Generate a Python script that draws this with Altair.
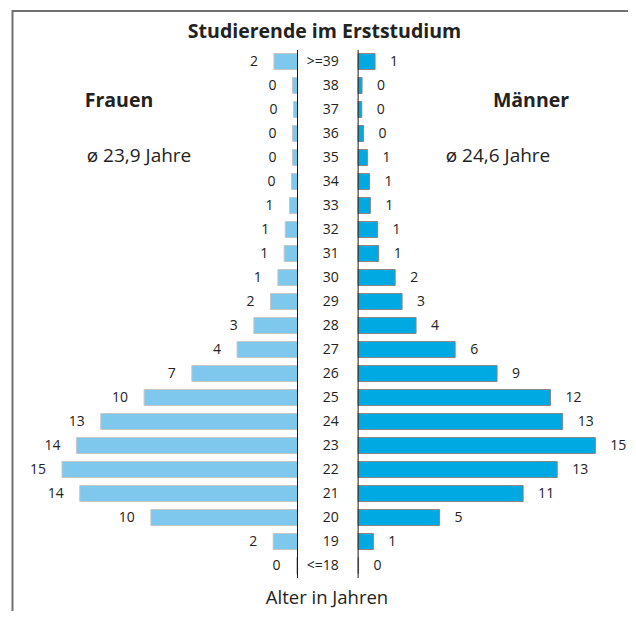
import altair as alt
import pandas as pd

# ---- data ----
ages = [">=39", "38", "37", "36", "35", "34", "33", "32", "31", "30", "29",
        "28", "27", "26", "25", "24", "23", "22", "21", "20", "19", "<=18"]
frauen = [1.50, 0.32, 0.25, 0.32, 0.32, 0.38, 0.51, 0.78, 0.85, 1.25, 1.72,
          2.78, 3.85, 6.73, 9.77, 12.53, 14.08, 15.0, 13.87, 9.34, 1.55, 0.06]
maenner = [1.08, 0.25, 0.23, 0.34, 0.59, 0.72, 0.78, 1.23, 1.31, 2.36, 2.80,
           3.69, 6.18, 8.85, 12.25, 13.03, 15.11, 12.68, 10.51, 5.18, 0.97, 0.03]
frauen_labels = [2, 0, 0, 0, 0, 0, 1, 1, 1, 1, 2, 3, 4, 7, 10, 13, 14, 15, 14, 10, 2, 0]
maenner_labels = [1, 0, 0, 0, 1, 1, 1, 1, 1, 2, 3, 4, 6, 9, 12, 13, 15, 13, 11, 5, 1, 0]

title_text = "Studierende im Erststudium"
left_title = "Frauen"
right_title = "Männer"
left_avg = "ø 23,9 Jahre"
right_avg = "ø 24,6 Jahre"
axis_title = "Alter in Jahren"

# ---- styling / layout ----
FONT = "Open Sans"
TXT = "#222222"
GAP = 1.93  # half gap between the two halves, in data units
W, H = 620, 603

df = pd.DataFrame({"age": ages, "f": frauen, "m": maenner,
                   "fl": frauen_labels, "ml": maenner_labels})

xscale = alt.Scale(domain=[-20.37, 19.12], nice=False, zero=False)
yscale = alt.Scale(domain=ages, range=[41.5, 569.5], paddingInner=1 / 3, paddingOuter=1 / 6)
Y = alt.Y("age:N", sort=ages, scale=yscale, axis=None)

base = alt.Chart(df).transform_calculate(
    f0=f"-{GAP}", f1=f"-{GAP} - datum.f", m0=f"{GAP}", m1=f"{GAP} + datum.m", c="0"
)

fbars = base.mark_bar(fill="#7ec8ee", stroke="#c6c6c6", strokeWidth=1).encode(
    x=alt.X("f1:Q", scale=xscale, axis=None), x2="f0:Q", y=Y)
mbars = base.mark_bar(fill="#00a9e1", stroke="#858585", strokeWidth=1).encode(
    x=alt.X("m0:Q", scale=xscale, axis=None), x2="m1:Q", y=Y)

flabels = base.mark_text(align="right", baseline="middle", dx=-16, font=FONT,
                         fontSize=14, color=TXT).encode(
    x=alt.X("f1:Q", scale=xscale, axis=None), y=Y, text="fl:Q")
mlabels = base.mark_text(align="left", baseline="middle", dx=15, font=FONT,
                         fontSize=14, color=TXT).encode(
    x=alt.X("m1:Q", scale=xscale, axis=None), y=Y, text="ml:Q")
agelabels = base.mark_text(align="right", baseline="middle", dx=11, font=FONT,
                           fontSize=14, color=TXT).encode(
    x=alt.X("c:Q", scale=xscale, axis=None), y=Y, text="age:N")

axis_lines = base.transform_filter("datum.age == '>=39'").transform_fold(
    ["f0", "m0"], as_=["k", "pos"]).mark_rule(color="#1a1a1a", strokeWidth=1).encode(
    x=alt.X("pos:Q", scale=xscale, axis=None), y=alt.value(42), y2=alt.value(570))

border_top = alt.Chart(pd.DataFrame({"a": [0]})).mark_rule(color="#707070", strokeWidth=2).encode(
    x=alt.value(4), x2=alt.value(W), y=alt.value(3))
border_left = alt.Chart(pd.DataFrame({"a": [0]})).mark_rule(color="#707070", strokeWidth=2).encode(
    x=alt.value(4.5), y=alt.value(2), y2=alt.value(H))


def label(text, x, y, size, weight="normal"):
    return alt.Chart(pd.DataFrame({"t": [text]})).mark_text(
        align="center", baseline="middle", font=FONT, fontSize=size,
        fontWeight=weight, color=TXT).encode(
        x=alt.value(x), y=alt.value(y), text="t:N")


annotations = [
    label(title_text, 316.5, 24, 19.5, "bold"),
    label(left_title, 111, 93, 19.5, "bold"),
    label(right_title, 523, 93, 19.5, "bold"),
    label(left_avg, 131, 148, 19),
    label(right_avg, 490, 148, 19),
    label(axis_title, 319, 590, 18.5),
]

chart = alt.layer(
    border_top, border_left, fbars, mbars, axis_lines, flabels, mlabels, agelabels,
    *annotations
).properties(
    width=W, height=H, autosize=alt.AutoSizeParams(type="none"), padding=0
).configure_view(stroke=None)

chart.save("out.html", embed_options={"renderer": "svg", "actions": False})
